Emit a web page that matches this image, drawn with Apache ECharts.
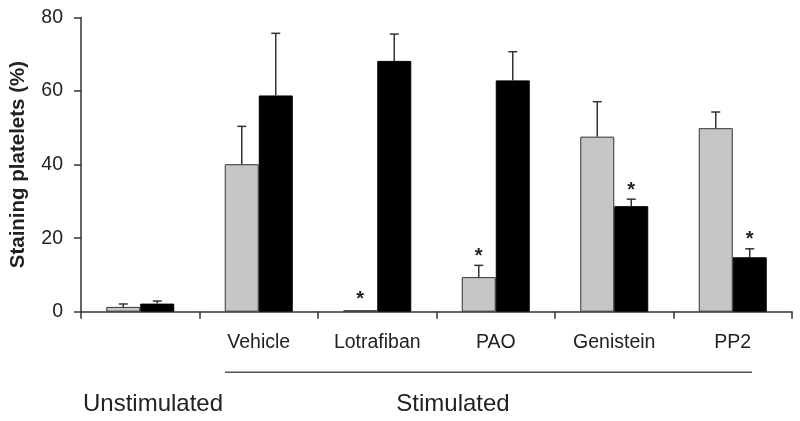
<!DOCTYPE html>
<html>
<head>
<meta charset="utf-8">
<script src="https://cdn.jsdelivr.net/npm/echarts@6/dist/echarts.min.js"></script>
<style>html,body{margin:0;padding:0;background:#fff}#c{width:800px;height:421px}</style>
</head>
<body>
<div id="c"></div>
<script>
const categories = ['', 'Vehicle', 'Lotrafiban', 'PAO', 'Genistein', 'PP2'];
const grayValues = [1.3, 40.1, 0.4, 9.4, 47.6, 49.9];
const grayErrTop = [2.1, 50.4, 0.4, 12.6, 57.1, 54.3];
const blackValues = [2.2, 58.8, 68.2, 62.9, 28.7, 14.8];
const blackErrTop = [2.9, 75.7, 75.5, 70.7, 30.6, 17.1];
const graySig = [0, 0, 1, 1, 0, 0];
const blackSig = [0, 0, 0, 0, 1, 1];
const yMin = 0, yMax = 80, yInterval = 20;
const yTitle = 'Staining platelets (%)';
const groupLabels = ['Unstimulated', 'Stimulated'];

const FONT = "'Liberation Sans', Arial, Helvetica, sans-serif";
const BAR_W = 34;

function errSeries(values, tops, sig, side) {
  return {
    type: 'custom',
    z: 5,
    data: values.map((v, i) => [i, v, tops[i], sig[i]]),
    renderItem: function (params, api) {
      const i = api.value(0);
      const base = api.coord([i, api.value(1)]);
      const top = api.coord([i, api.value(2)]);
      const x = base[0] + side * BAR_W / 2;
      const children = [];
      if (api.value(2) > api.value(1)) {
        children.push({ type: 'line', shape: { x1: x, y1: base[1], x2: x, y2: top[1] }, style: { stroke: '#333', lineWidth: 1.5 } });
        children.push({ type: 'line', shape: { x1: x - 4.5, y1: top[1], x2: x + 4.5, y2: top[1] }, style: { stroke: '#333', lineWidth: 1.5 } });
      }
      if (api.value(3)) {
        const gap = api.value(2) > api.value(1) ? 9 : 11;
        children.push({ type: 'text', style: { text: '*', x: x, y: top[1] - gap, textAlign: 'center', textVerticalAlign: 'middle', font: 'bold 20px ' + FONT, fill: '#222' } });
      }
      return { type: 'group', children: children };
    }
  };
}

const chart = echarts.init(document.getElementById('c'), null, { renderer: 'canvas' });
chart.setOption({
  animation: false,
  backgroundColor: '#fff',
  grid: { left: 79, right: 8, top: 17.5, bottom: 109.3, containLabel: false },
  xAxis: {
    type: 'category',
    data: categories,
    axisLine: { lineStyle: { color: '#333', width: 1.5 } },
    axisTick: { show: true, length: 7, lineStyle: { color: '#333', width: 1.5 } },
    axisLabel: { margin: 21, color: '#222', fontSize: 19.5, fontFamily: FONT, interval: 0 }
  },
  yAxis: {
    type: 'value',
    min: yMin, max: yMax, interval: yInterval,
    name: yTitle,
    nameLocation: 'middle',
    nameGap: 52,
    nameTextStyle: { fontSize: 20.5, fontWeight: 'bold', color: '#222', fontFamily: FONT },
    splitLine: { show: false },
    axisLine: { show: true, lineStyle: { color: '#333', width: 1.5 } },
    axisTick: { show: true, length: 7, lineStyle: { color: '#333', width: 1.5 } },
    axisLabel: { margin: 18, color: '#222', fontSize: 19.5, fontFamily: FONT }
  },
  series: [
    { type: 'bar', data: grayValues, barWidth: BAR_W, barGap: '0%', itemStyle: { color: '#c6c6c6', borderColor: '#333', borderWidth: 1 } },
    { type: 'bar', data: blackValues, barWidth: BAR_W, barGap: '0%', itemStyle: { color: '#000', borderColor: '#000', borderWidth: 1 } },
    errSeries(grayValues, grayErrTop, graySig, -1),
    errSeries(blackValues, blackErrTop, blackSig, 1)
  ],
  graphic: [
    { type: 'line', shape: { x1: 225, y1: 372.3, x2: 752, y2: 372.3 }, style: { stroke: '#555', lineWidth: 1.5 } },
    { type: 'text', style: { text: groupLabels[0], x: 153, y: 404, textAlign: 'center', textVerticalAlign: 'middle', font: '24px ' + FONT, fill: '#222' } },
    { type: 'text', style: { text: groupLabels[1], x: 453, y: 404, textAlign: 'center', textVerticalAlign: 'middle', font: '24px ' + FONT, fill: '#222' } }
  ]
});
</script>
</body>
</html>
